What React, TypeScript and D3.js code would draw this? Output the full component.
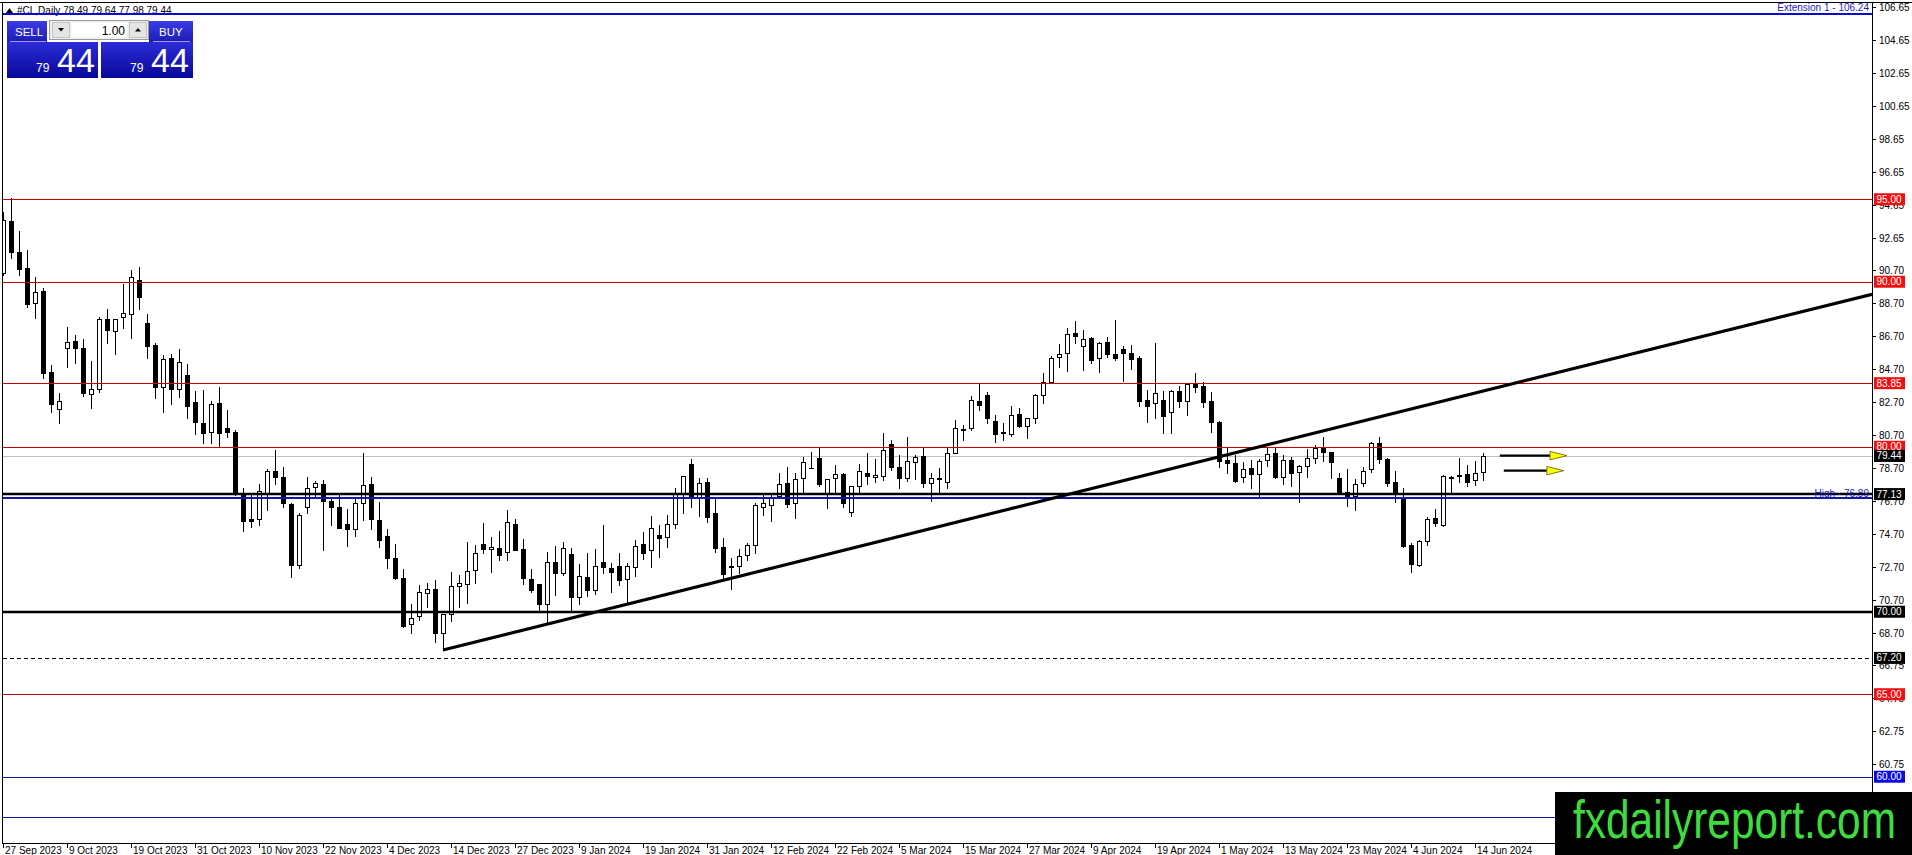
import * as d3 from "d3";

// daily bars, [open, high, low, close]
const candles: [number, number, number, number][] = [
  [90.51, 94.25, 90.4, 93.74], [93.68, 95.06, 91.42, 91.78], [91.8, 93.08, 90.39, 90.75], [90.81, 91.92, 88.45, 88.63],
  [88.69, 90.27, 87.78, 89.4], [89.44, 89.6, 84.15, 84.45], [84.51, 84.95, 82.13, 82.57], [82.27, 83.24, 81.46, 82.79],
  [85.96, 87.28, 84.85, 86.37], [86.43, 86.77, 85.1, 85.96], [85.96, 86.51, 83.08, 83.24], [83.2, 85.22, 82.33, 83.48],
  [83.48, 87.88, 83.34, 87.74], [87.72, 88.35, 86.31, 87.07], [87.01, 87.72, 85.6, 87.72], [87.84, 89.86, 87.18, 88.13],
  [88.02, 90.71, 86.61, 90.31], [90.11, 90.87, 88.33, 89.06], [87.48, 88.02, 85.36, 86.11], [86.17, 86.27, 82.93, 83.64],
  [83.64, 85.56, 82.09, 85.3], [85.36, 85.62, 82.57, 83.48], [83.48, 85.9, 83.03, 85.16], [84.35, 85.01, 81.76, 82.49],
  [82.69, 83.38, 80.77, 81.48], [81.42, 83.44, 80.21, 80.81], [80.87, 82.79, 80.21, 82.57], [82.63, 83.6, 80.07, 80.81],
  [81.12, 82.23, 80.61, 80.87], [80.87, 81.01, 77.08, 77.14], [77.14, 77.48, 74.91, 75.52], [75.6, 77.08, 75.16, 75.52],
  [75.6, 77.74, 75.26, 77.34], [77.18, 78.65, 76.17, 78.53], [78.53, 79.8, 77.74, 78.19], [78.15, 78.79, 76.33, 76.57],
  [76.53, 76.57, 72.13, 72.83], [72.83, 76.0, 72.67, 75.86], [76.37, 78.15, 76.0, 77.48], [77.58, 77.94, 76.98, 77.78],
  [77.74, 77.98, 73.74, 76.73], [76.71, 76.81, 75.26, 76.37], [76.33, 77.14, 75.05, 75.09], [75.3, 76.2, 73.98, 75.0],
  [75.0, 76.97, 74.59, 76.57], [76.57, 79.6, 75.56, 77.66], [77.74, 78.15, 75.0, 75.6], [75.56, 76.67, 73.9, 74.35],
  [74.59, 75.0, 72.63, 73.24], [73.24, 74.1, 71.96, 72.03], [72.03, 72.57, 69.06, 69.14], [69.24, 70.47, 68.73, 69.6],
  [69.74, 71.62, 69.5, 71.22], [71.12, 71.76, 70.31, 71.36], [71.36, 71.92, 68.19, 68.69], [68.69, 69.86, 67.68, 69.84],
  [69.86, 72.39, 69.46, 71.58], [71.58, 72.23, 70.31, 71.72], [71.68, 74.25, 70.55, 72.47], [72.53, 74.05, 71.72, 73.54],
  [74.11, 75.4, 73.58, 73.78], [73.78, 74.55, 72.43, 73.9], [73.84, 74.91, 73.14, 73.44], [73.6, 76.17, 73.14, 75.42],
  [75.32, 75.62, 73.74, 73.74], [73.78, 74.39, 71.68, 72.03], [71.96, 72.57, 71.22, 71.32], [71.66, 71.68, 70.0, 70.45],
  [70.45, 73.6, 69.3, 73.0], [73.0, 73.98, 71.0, 72.37], [72.33, 74.25, 72.23, 73.88], [73.48, 73.88, 70.06, 70.87],
  [70.87, 72.89, 70.45, 72.19], [72.13, 73.54, 70.95, 71.32], [71.32, 73.78, 71.08, 72.79], [73.0, 75.26, 72.37, 72.73],
  [72.63, 72.93, 71.22, 72.43], [72.79, 73.54, 71.62, 71.92], [71.96, 72.93, 70.51, 72.79], [72.73, 74.35, 72.17, 74.0],
  [74.09, 74.85, 73.18, 73.58], [73.74, 75.8, 72.73, 75.09], [74.65, 75.26, 73.34, 74.45], [74.51, 75.86, 73.9, 75.32],
  [75.3, 77.48, 75.09, 77.14], [77.14, 78.23, 76.0, 78.23], [78.95, 79.24, 76.37, 76.93], [76.93, 78.13, 75.8, 77.78],
  [77.84, 78.13, 75.46, 75.76], [75.96, 76.87, 73.64, 73.88], [73.9, 74.45, 71.92, 72.29], [72.77, 73.24, 71.36, 72.73],
  [72.77, 73.78, 72.33, 73.4], [73.44, 74.15, 73.14, 74.05], [74.05, 76.57, 73.54, 76.47], [76.37, 77.22, 75.86, 76.57],
  [76.47, 77.08, 75.52, 76.87], [77.01, 78.43, 76.87, 77.74], [77.78, 78.79, 76.37, 76.53], [76.57, 78.39, 75.66, 78.03],
  [78.09, 79.36, 77.18, 79.09], [78.7, 79.7, 78.7, 78.74], [79.3, 79.96, 77.64, 77.74], [77.18, 78.03, 76.27, 78.03],
  [78.09, 78.89, 77.18, 78.33], [78.33, 78.39, 76.37, 76.57], [76.07, 77.62, 75.8, 77.62], [77.62, 78.95, 77.18, 78.53],
  [78.43, 79.6, 77.74, 78.25], [78.19, 79.24, 77.88, 78.29], [78.25, 80.81, 77.98, 79.8], [80.17, 80.41, 78.59, 78.75],
  [78.75, 79.5, 77.48, 78.09], [78.13, 80.61, 77.94, 79.13], [79.09, 79.5, 78.03, 79.4], [79.46, 79.9, 77.54, 77.82],
  [77.78, 78.43, 76.73, 78.09], [78.09, 78.7, 77.28, 78.03], [77.88, 79.9, 77.52, 79.6], [79.6, 81.62, 79.6, 81.12],
  [81.01, 81.32, 80.41, 81.06], [81.12, 83.08, 81.01, 82.83], [82.77, 83.84, 82.23, 82.53], [83.14, 83.34, 81.42, 81.72],
  [81.56, 81.92, 80.31, 80.75], [80.87, 81.42, 80.41, 80.81], [80.75, 82.47, 80.65, 81.92], [81.96, 82.33, 81.18, 81.28],
  [81.26, 81.72, 80.51, 81.72], [81.72, 83.2, 81.46, 83.14], [83.14, 84.49, 82.63, 83.94], [83.94, 85.5, 83.84, 85.4],
  [85.46, 86.23, 84.81, 85.6], [85.66, 87.22, 84.61, 86.81], [86.87, 87.62, 86.31, 86.73], [86.11, 87.08, 84.65, 86.53],
  [86.57, 86.67, 85.1, 85.26], [85.36, 86.37, 84.55, 86.27], [86.33, 86.67, 85.46, 85.6], [85.6, 87.68, 85.26, 85.4],
  [85.9, 86.11, 84.0, 85.66], [85.66, 86.17, 84.71, 85.3], [85.4, 85.5, 82.47, 82.79], [82.83, 83.44, 81.52, 82.49],
  [82.63, 86.31, 81.72, 83.24], [82.83, 83.38, 80.81, 81.88], [82.13, 83.44, 80.85, 83.38], [83.38, 83.68, 82.43, 82.77],
  [82.79, 83.78, 81.92, 83.78], [83.78, 84.49, 83.34, 83.64], [83.68, 83.9, 82.39, 82.73], [82.77, 83.34, 80.91, 81.52],
  [81.52, 81.56, 78.79, 79.16], [79.2, 79.9, 78.39, 79.03], [79.03, 79.5, 77.88, 77.94], [78.15, 79.05, 77.88, 78.63],
  [78.69, 79.2, 77.52, 78.33], [78.33, 79.24, 76.87, 79.16], [79.2, 79.9, 78.83, 79.54], [79.6, 79.9, 78.09, 78.15],
  [78.15, 79.5, 77.74, 79.2], [79.2, 79.4, 77.62, 78.39], [78.45, 78.89, 76.67, 78.83], [78.83, 79.84, 78.19, 79.3],
  [79.3, 80.1, 78.99, 79.9], [80.0, 80.61, 79.16, 79.66], [79.66, 79.7, 78.09, 79.1], [78.09, 78.39, 77.14, 77.18],
  [77.28, 78.63, 76.41, 77.01], [77.01, 78.03, 76.17, 77.74], [77.78, 78.79, 77.64, 78.55], [78.63, 80.31, 78.49, 80.25],
  [80.25, 80.61, 78.99, 79.24], [79.24, 79.3, 77.62, 77.82], [77.84, 78.55, 76.63, 77.18], [76.87, 77.48, 73.94, 73.98],
  [74.05, 74.15, 72.43, 72.89], [72.83, 74.35, 72.79, 74.29], [74.29, 75.76, 74.05, 75.6], [75.66, 76.2, 75.2, 75.36],
  [75.26, 78.29, 75.2, 78.23], [78.09, 78.23, 77.18, 78.19], [78.23, 79.3, 77.88, 78.29], [78.35, 78.89, 77.64, 77.88],
  [77.98, 79.16, 77.68, 78.43], [78.49, 79.64, 77.98, 79.44],
];

const dateLabels = [
  "27 Sep 2023", "9 Oct 2023", "19 Oct 2023", "31 Oct 2023", "10 Nov 2023", "22 Nov 2023", "4 Dec 2023", "14 Dec 2023",
  "27 Dec 2023", "9 Jan 2024", "19 Jan 2024", "31 Jan 2024", "12 Feb 2024", "22 Feb 2024", "5 Mar 2024", "15 Mar 2024",
  "27 Mar 2024", "9 Apr 2024", "19 Apr 2024", "1 May 2024", "13 May 2024", "23 May 2024", "4 Jun 2024", "14 Jun 2024",
];
const dateBars = [0, 8, 16, 24, 32, 40, 48, 56, 64, 72, 80, 88, 96, 104, 112, 120, 128, 136, 144, 152, 160, 168, 176, 184];

const priceTicks = [
  106.65, 104.65, 102.65, 100.65, 98.65, 96.65, 94.65, 92.65, 90.7, 88.7, 86.7, 84.7, 82.7, 80.7, 78.7, 76.7,
  74.7, 72.7, 70.7, 68.7, 66.75, 64.75, 62.75, 60.75,
];

const redLevels = [95, 90, 83.85, 80, 65];
const blackLevels = [77.13, 70];
const dashedLevels = [67.2];
const navyLevels = [60, 57.55];
const extensionLevel = 106.24;
const highLevel = 76.89;
const bidPrice = 79.44;

// trendline anchors: [bar, price]
const trendStart: [number, number] = [55, 67.68];
const trendEnd: [number, number] = [185, 83.37];

// arrows: [fromBar, toBar], price
const arrowBars: [number, number][] = [[187.1, 195.5], [187.6, 195.1]];
const arrowPrices = [79.46, 78.55];

const header = "#CL,Daily  78.49 79.64 77.98 79.44";

const W = 1912;
const H = 855;
const LEFT = 3;
const RIGHT = 1872;
const TOP = 3;
const BOTTOM = 843;
const BAR = 8;
const FONT = "Tahoma, 'Liberation Sans', Arial, sans-serif";

const App = () => {
  const x = d3
    .scaleLinear()
    .domain([0, candles.length - 1])
    .range([LEFT, LEFT + BAR * (candles.length - 1)]);
  const y = d3
    .scaleLinear()
    .domain([priceTicks[0], priceTicks[priceTicks.length - 1]])
    .range([7, 7 + (priceTicks[0] - priceTicks[priceTicks.length - 1]) * 16.5]);
  const py = (p: number) => Math.round(y(p)) + 0.5;

  const slope = (trendEnd[1] - trendStart[1]) / (trendEnd[0] - trendStart[0]);
  const lastBar = x.invert(RIGHT);
  const trendPath = d3.line<[number, number]>()
    .x((d) => x(d[0]))
    .y((d) => y(d[1]))([
      trendStart,
      [lastBar, trendStart[1] + slope * (lastBar - trendStart[0])],
    ]);

  const tag = (p: number, fill: string, key: string) => (
    <g key={key}>
      <rect x={1874} y={y(p) - 6} width={31} height={12} fill={fill} />
      <text x={1876.5} y={y(p)} dy="0.35em" fontSize={10} fill="#fff">
        {p.toFixed(2)}
      </text>
    </g>
  );

  return (
    <div style={{ position: "absolute", left: 0, top: 0 }}>
      <svg width={W} height={H} fontFamily={FONT} style={{ display: "block", background: "#fff" }}>
        <defs>
          <clipPath id="plot">
            <rect x={LEFT} y={TOP} width={RIGHT - LEFT} height={BOTTOM - TOP} />
          </clipPath>
          <linearGradient id="btn" x1="0" y1="0" x2="0" y2="1">
            <stop offset="0" stopColor="#3c3ce6" />
            <stop offset="1" stopColor="#1c1cb4" />
          </linearGradient>
          <linearGradient id="quote" x1="0" y1="0" x2="0" y2="1">
            <stop offset="0" stopColor="#2c2cd8" />
            <stop offset="1" stopColor="#08089a" />
          </linearGradient>
        </defs>

        {/* header */}
        <path d="M6,13 L9.5,8 L13,13 Z" fill="#000" />
        <text x={17} y={14} fontSize={10} fill="#000">{header}</text>

        <g clipPath="url(#plot)">
          {/* bid line */}
          <line x1={LEFT} x2={RIGHT} y1={py(bidPrice)} y2={py(bidPrice)} stroke="#c0c0c0" />

          {/* candles */}
          {candles.map(([o, h, l, c], i) => {
            const cx = Math.round(x(i));
            const top = Math.round(y(Math.max(o, c)));
            const bot = Math.round(y(Math.min(o, c)));
            const up = c >= o;
            return (
              <g key={i} shapeRendering="crispEdges">
                <line x1={cx + 0.5} x2={cx + 0.5} y1={Math.round(y(h))} y2={Math.round(y(l)) + 1} stroke="#000" />
                {bot - top < 2 ? (
                  <rect x={cx - 2} y={top} width={5} height={Math.max(1, bot - top + 1)} fill="#000" />
                ) : up ? (
                  <rect x={cx - 1.5} y={top + 0.5} width={4} height={bot - top} fill="#fff" stroke="#000" />
                ) : (
                  <rect x={cx - 2} y={top} width={5} height={bot - top + 1} fill="#000" />
                )}
              </g>
            );
          })}

          {/* horizontal levels */}
          {redLevels.map((p) => (
            <line key={"r" + p} x1={LEFT} x2={RIGHT} y1={py(p)} y2={py(p)} stroke="#c40000" />
          ))}
          {navyLevels.map((p) => (
            <line key={"n" + p} x1={LEFT} x2={RIGHT} y1={py(p)} y2={py(p)} stroke="#10109c" />
          ))}
          {dashedLevels.map((p) => (
            <line key={"d" + p} x1={LEFT} x2={RIGHT} y1={py(p)} y2={py(p)} stroke="#000" strokeDasharray="4,3" />
          ))}
          {blackLevels.map((p) => (
            <line key={"b" + p} x1={LEFT} x2={RIGHT} y1={Math.round(y(p))} y2={Math.round(y(p))} stroke="#000" strokeWidth={2.4} />
          ))}
          <line x1={LEFT} x2={RIGHT} y1={Math.round(y(highLevel))} y2={Math.round(y(highLevel))} stroke="#1414a8" strokeWidth={2.2} />
          <text x={RIGHT - 3} y={y(highLevel) - 1} textAnchor="end" fontSize={10} fill="#2020b0">
            {"High - " + highLevel.toFixed(2)}
          </text>

          {/* trendline */}
          <path d={trendPath ?? ""} stroke="#000" strokeWidth={3.2} fill="none" />

          {/* arrows */}
          {arrowBars.map(([a, b], k) => {
            const yy = y(arrowPrices[k]);
            const xa = x(a);
            const xb = x(b);
            return (
              <g key={"a" + k}>
                <line x1={xa} x2={xb - 17} y1={yy} y2={yy} stroke="#000" strokeWidth={2.2} />
                <path d={`M${xb - 17},${yy - 4.2} L${xb},${yy} L${xb - 17},${yy + 4.2} Z`} fill="#ffff00" stroke="#5a5a00" strokeWidth={0.8} />
              </g>
            );
          })}
        </g>

        {/* extension line */}
        <line x1={LEFT} x2={RIGHT} y1={Math.round(y(extensionLevel))} y2={Math.round(y(extensionLevel))} stroke="#0a0ad0" strokeWidth={2.2} />
        <text x={RIGHT - 3} y={11} textAnchor="end" fontSize={10} fill="#1c1ccc">
          {"Extension 1 - " + extensionLevel.toFixed(2)}
        </text>

        {/* frame */}
        <g shapeRendering="crispEdges" stroke="#000">
          <line x1={0} x2={W} y1={2.5} y2={2.5} />
          <line x1={LEFT - 0.5} x2={LEFT - 0.5} y1={2.5} y2={BOTTOM + 0.5} />
          <line x1={RIGHT + 0.5} x2={RIGHT + 0.5} y1={2.5} y2={BOTTOM + 0.5} />
          <line x1={LEFT - 0.5} x2={RIGHT + 0.5} y1={BOTTOM + 0.5} y2={BOTTOM + 0.5} />
        </g>

        {/* price axis */}
        {priceTicks.map((p) => (
          <g key={"t" + p}>
            <line x1={RIGHT} x2={RIGHT + 4} y1={py(p)} y2={py(p)} stroke="#000" shapeRendering="crispEdges" />
            <text x={RIGHT + 7} y={y(p)} dy="0.35em" fontSize={10} fill="#000">
              {p.toFixed(2)}
            </text>
          </g>
        ))}
        {redLevels.map((p) => tag(p, "#ee1010", "rt" + p))}
        {tag(bidPrice, "#000", "bid")}
        {blackLevels.map((p) => tag(p, "#000", "bt" + p))}
        {dashedLevels.map((p) => tag(p, "#000", "dt" + p))}
        {tag(navyLevels[0], "#0a0ae0", "nt")}

        {/* time axis */}
        {dateBars.map((b, k) => (
          <g key={"x" + b}>
            <line x1={Math.round(x(b)) + 0.5} x2={Math.round(x(b)) + 0.5} y1={BOTTOM} y2={BOTTOM + 5} stroke="#000" shapeRendering="crispEdges" />
            <text x={x(b) + 2} y={854} fontSize={10} fill="#000">
              {dateLabels[k]}
            </text>
          </g>
        ))}

        {/* one-click trading panel */}
        <g>
          <rect x={7} y={21} width={40} height={21} fill="url(#btn)" />
          <rect x={149} y={21} width={44} height={21} fill="url(#btn)" />
          <rect x={49.5} y={20.5} width={99} height={19} fill="#eeeeee" stroke="#9a9a9a" />
          <rect x={52.5} y={22.5} width={17} height={15} fill="#e4e4e4" stroke="#c4c4c4" />
          <path d="M58,28 L64,28 L61,31.5 Z" fill="#000" />
          <rect x={71.5} y={22.5} width={56} height={15} fill="#fff" />
          <text x={125} y={34.5} textAnchor="end" fontSize={12} fill="#000">1.00</text>
          <rect x={129.5} y={22.5} width={17} height={15} fill="#e4e4e4" stroke="#c4c4c4" />
          <path d="M135,31.5 L141,31.5 L138,28 Z" fill="#000" />
          <text x={15} y={36} fontSize={11.5} fill="#fff">SELL</text>
          <text x={159} y={36} fontSize={11.5} fill="#fff">BUY</text>
          <rect x={7} y={42} width={91} height={36} fill="url(#quote)" />
          <rect x={101} y={42} width={92} height={36} fill="url(#quote)" />
          <line x1={10} x2={46} y1={41.5} y2={41.5} stroke="#9a9af5" />
          <line x1={153} x2={190} y1={41.5} y2={41.5} stroke="#9a9af5" />
          <text x={36} y={72} fontSize={12} fill="#fff">79</text>
          <text x={57} y={72} fontSize={34} fill="#fff">44</text>
          <text x={130} y={72} fontSize={12} fill="#fff">79</text>
          <text x={151} y={72} fontSize={34} fill="#fff">44</text>
        </g>

        {/* watermark */}
        <rect x={1555} y={792} width={W - 1555} height={H - 792} fill="#000" />
        <text
          x={1573}
          y={838}
          fontSize={54}
          fontFamily="'Liberation Sans', Arial, sans-serif"
          fill="#3fdc3f"
          textLength={323}
          lengthAdjust="spacingAndGlyphs"
        >
          fxdailyreport.com
        </text>
      </svg>
    </div>
  );
};

export default App;
